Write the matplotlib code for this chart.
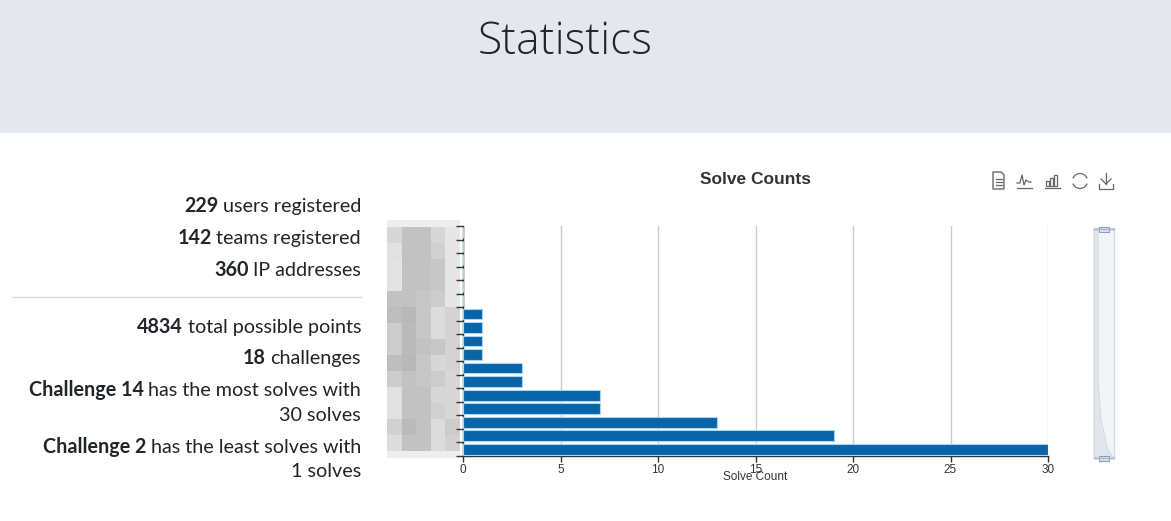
import numpy as np
import matplotlib
matplotlib.use("Agg")
import matplotlib.pyplot as plt
import matplotlib.transforms as mtransforms
from matplotlib.patches import Rectangle, Polygon, Arc

W, H = 1171, 521

# solve counts, bottom category first (echarts draws first category at the bottom)
solve_counts = [30, 19, 13, 7, 7, 3, 3, 1, 1, 1, 1, 0, 0, 0, 0, 0, 0]
x_ticks = [0, 5, 10, 15, 20, 25, 30]

stats_top = [("229", "users registered"), ("142", "teams registered"), ("360", "IP addresses")]
stats_bottom = [("4834", "total possible points"), ("18", "challenges")]
most_name, most_count = "Challenge 14", 30
least_name, least_count = "Challenge 2", 1

# pixelated (blurred) category labels, grey levels
blur = np.array([
    [0.84, 0.76, 0.76, 0.84, 0.90],
    [0.88, 0.76, 0.76, 0.82, 0.90],
    [0.89, 0.76, 0.76, 0.78, 0.90],
    [0.89, 0.76, 0.76, 0.78, 0.90],
    [0.76, 0.76, 0.78, 0.80, 0.90],
    [0.74, 0.72, 0.78, 0.86, 0.83],
    [0.80, 0.73, 0.78, 0.86, 0.83],
    [0.80, 0.73, 0.76, 0.78, 0.83],
    [0.74, 0.72, 0.78, 0.84, 0.83],
    [0.80, 0.76, 0.78, 0.80, 0.84],
    [0.88, 0.76, 0.76, 0.84, 0.84],
    [0.88, 0.76, 0.76, 0.82, 0.84],
    [0.82, 0.73, 0.76, 0.86, 0.80],
    [0.86, 0.76, 0.76, 0.86, 0.82],
])

fig = plt.figure(figsize=(W / 100, H / 100), dpi=100)
fig.patch.set_facecolor("white")

ov = fig.add_axes([0, 0, 1, 1], zorder=0)
ov.set_xlim(0, W)
ov.set_ylim(H, 0)
ov.axis("off")

# header band
ov.add_patch(Rectangle((0, 0), W, 133, color="#e4e8ec", lw=0))
ov.text(565, 54, "Statistics", ha="center", va="baseline", fontsize=32, weight=300,
        family=["Open Sans", "DejaVu Sans"], color="#212529")

# left column stats
renderer = fig.canvas.get_renderer()
fam = ["Lato", "DejaVu Sans"]
txt_kw = dict(va="baseline", fontsize=14.2, family=fam, color="#212529")
mixed = mtransforms.blended_transform_factory(mtransforms.IdentityTransform(), ov.transData)


def stat_line(y, bold, rest):
    t = ov.text(361, y, rest, ha="right", **txt_kw)
    x0 = t.get_window_extent(renderer).x0 - 4.5
    ov.text(x0, y, bold, ha="right", weight="bold", transform=mixed, **txt_kw)


for (b, r), y in zip(stats_top, [212, 244, 276]):
    stat_line(y, b, r)
ov.plot([12, 361], [297, 297], color="#dcdcdc", lw=1)
for (b, r), y in zip(stats_bottom, [333, 364]):
    stat_line(y, b, r)
stat_line(396, most_name, "has the most solves with")
ov.text(361, 421, f"{most_count} solves", ha="right", **txt_kw)
stat_line(453, least_name, "has the least solves with")
ov.text(361, 477, f"{least_count} solves", ha="right", **txt_kw)

# blurred labels
ov.add_patch(Rectangle((387, 220), 73, 238, color="#eeeeee", lw=0))
ov.imshow(blur, cmap="gray", vmin=0, vmax=1, extent=[387, 460, 451, 227],
          interpolation="nearest", aspect="auto", zorder=2)

# chart
ax = fig.add_axes([463 / W, (H - 456) / H, 585 / W, 230 / H], zorder=1)
ax.set_facecolor("none")
y = np.arange(len(solve_counts))
ax.barh(y, solve_counts, height=0.8, color="#0a64a8", edgecolor="#a8d6f2", lw=0.8, zorder=3)
ax.set_xlim(0, 30)
ax.set_ylim(-0.5, len(solve_counts) - 0.5)
ax.set_xticks(x_ticks)
ax.set_xticklabels([str(v) for v in x_ticks], fontsize=8.5, family=["Liberation Sans"], color="#333333")
ax.set_yticks(np.arange(-0.5, len(solve_counts), 1.0))
ax.set_yticklabels([])
ax.tick_params(axis="y", length=5, width=1, color="#333333")
ax.tick_params(axis="x", length=4, width=1, color="#333333", pad=2)
ax.grid(axis="x", color="#cccccc", lw=1, zorder=0)
for s in ["top", "right"]:
    ax.spines[s].set_visible(False)
for s in ["left", "bottom"]:
    ax.spines[s].set_color("#333333")
    ax.spines[s].set_linewidth(1)

ov.text(755, 477, "Solve Count", ha="center", va="center", fontsize=8.5,
        family=["Liberation Sans"], color="#333333", zorder=5)
ov.text(755, 180, "Solve Counts", ha="center", va="center", fontsize=12.5,
        family=["Liberation Sans"], weight="bold", color="#333333")

# toolbox icons
ic = "#666666"
ov.add_patch(Polygon([[993, 172], [1001, 172], [1004, 175], [1004, 189], [993, 189]],
                     closed=True, fill=False, ec=ic, lw=1))
for yy in [179, 182, 185]:
    ov.plot([995.5, 1001.5], [yy, yy], color=ic, lw=0.9)
ov.plot([1017, 1020, 1022, 1024, 1026, 1029, 1031], [183, 183, 175, 185, 180, 182, 182], color=ic, lw=0.9)
ov.plot([1017, 1032], [188, 188], color=ic, lw=0.9)
for bx, bt in zip([1046, 1050, 1054], [181, 178, 175]):
    ov.add_patch(Rectangle((bx, bt), 2.5, 186 - bt, fill=False, ec=ic, lw=0.9))
ov.plot([1045, 1060], [188, 188], color=ic, lw=0.9)
ov.add_patch(Arc((1080, 181), 15, 15, theta1=20, theta2=160, ec=ic, lw=0.9))
ov.add_patch(Arc((1080, 181), 15, 15, theta1=200, theta2=340, ec=ic, lw=0.9))
ov.plot([1106, 1106], [173, 184], color=ic, lw=0.9)
ov.plot([1101, 1106, 1111], [179, 184, 179], color=ic, lw=0.9)
ov.plot([1099, 1099, 1113, 1113], [184, 189, 189, 184], color=ic, lw=0.9)

# dataZoom slider
ov.add_patch(Rectangle((1094, 228), 20, 230, fc="#f2f4f7", ec="#d2dbe8", lw=1))
ov.add_patch(Polygon([[1094, 229], [1098, 229], [1098, 380], [1101, 420], [1108, 450],
                      [1113, 457], [1094, 457]], closed=True, fc="#e2e5ea", ec="#d0d4dc", lw=0.6))
for hy in [229, 458]:
    ov.plot([1094, 1114], [hy, hy], color="#a7b7cc", lw=1)
    ov.add_patch(Rectangle((1099, hy - 2.5), 10, 5, fc="#dfe5ef", ec="#8fa0b8", lw=0.8))

fig.savefig("out.png", dpi=100)
